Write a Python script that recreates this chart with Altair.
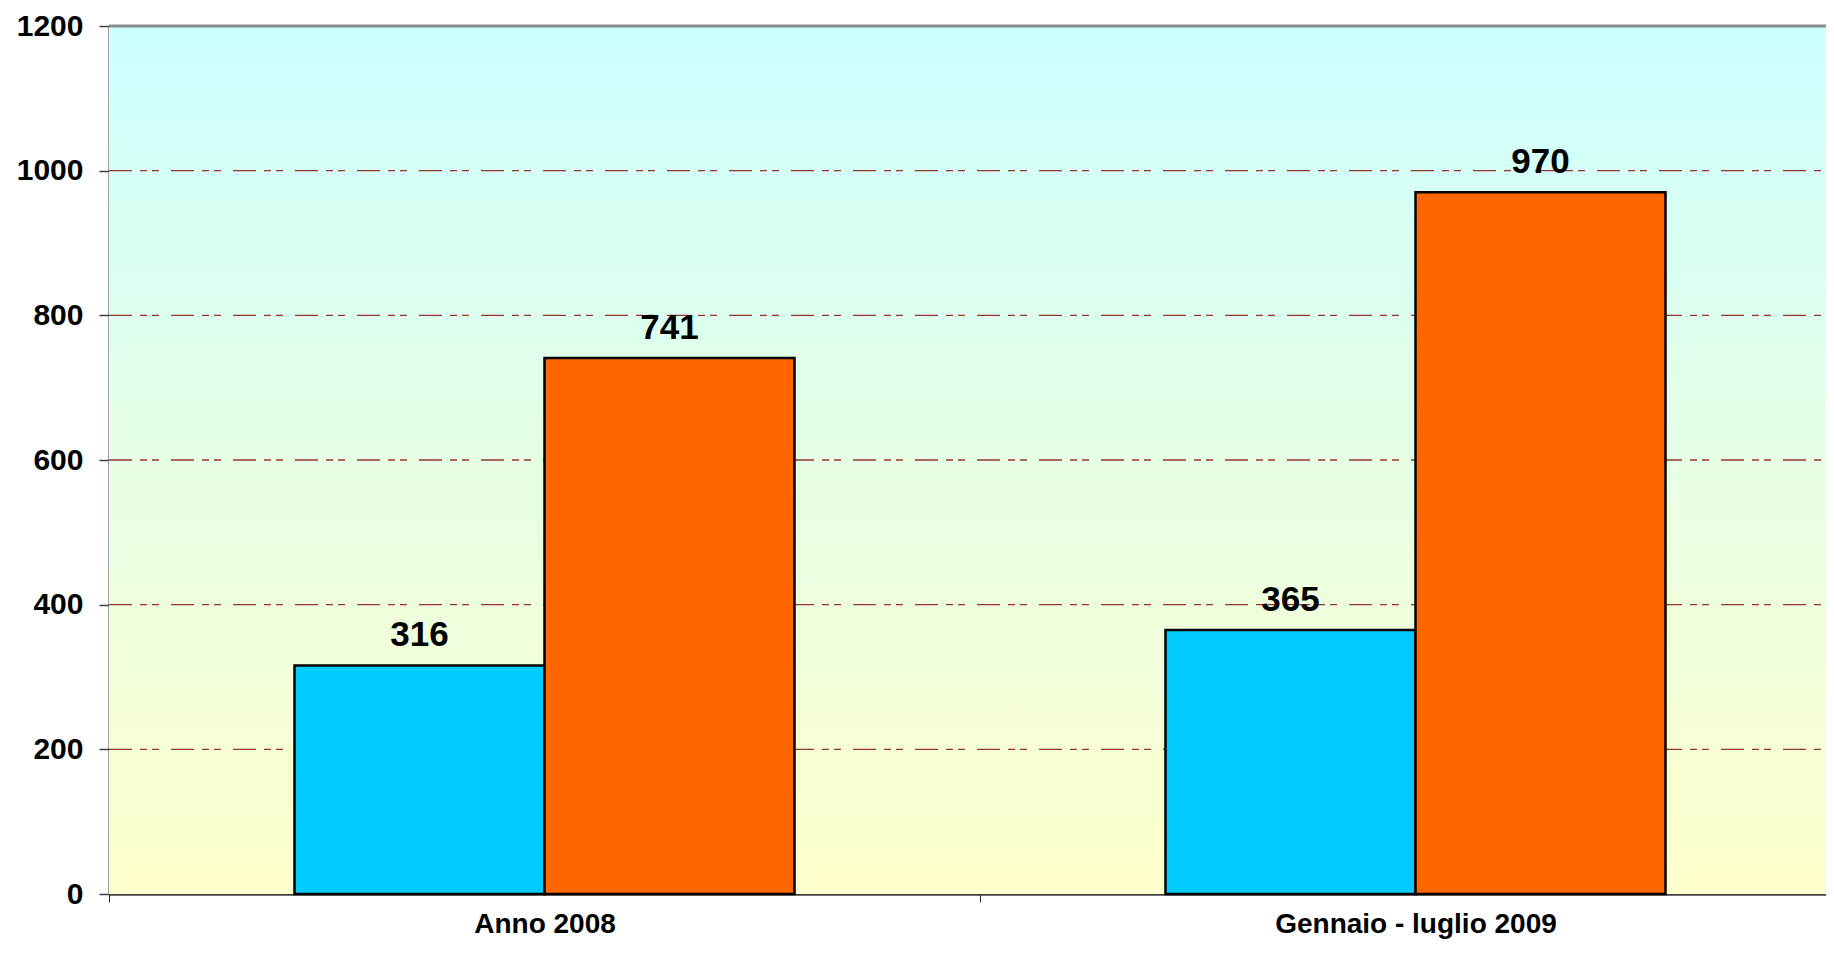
import altair as alt
import pandas as pd

# ---- data ----
categories = ["Anno 2008", "Gennaio - luglio 2009"]
series_names = ["Serie 1", "Serie 2"]
values_serie1 = [316, 365]
values_serie2 = [741, 970]
y_ticks = [0, 200, 400, 600, 800, 1000, 1200]
grid_values = [200, 400, 600, 800, 1000]
bar_colors = ["#00CCFF", "#FF6600"]

rows = []
for i, c in enumerate(categories):
    rows.append({"cat": c, "serie": series_names[0], "v": values_serie1[i]})
    rows.append({"cat": c, "serie": series_names[1], "v": values_serie2[i]})
df = pd.DataFrame(rows)
grid_df = pd.DataFrame({"v": grid_values})

W_VIS = 1717   # visible plot width
W_FULL = 1742  # full band range (plot is cropped on the right)
H = 868
FONT = "Liberation Sans"

y_scale = alt.Scale(domain=[0, 1200], nice=False, zero=True)
x_scale = alt.Scale(range=[0, W_FULL], paddingInner=0, paddingOuter=0)
off_scale = alt.Scale(paddingOuter=0.742, paddingInner=0)

bg = alt.Chart(pd.DataFrame({"a": [0]})).mark_rect(
    color=alt.Gradient(
        gradient="linear",
        stops=[alt.GradientStop(color="#CCFFFF", offset=0),
               alt.GradientStop(color="#FFFFCC", offset=1)],
        x1=0, x2=0, y1=0, y2=1,
    )
).encode(x=alt.value(0), x2=alt.value(W_FULL), y=alt.value(0), y2=alt.value(H))

grid = alt.Chart(grid_df).mark_rule(
    color="#993333", strokeWidth=1.3, strokeDash=[23, 8, 7, 5, 7, 12]
).encode(y=alt.Y("v:Q", scale=y_scale), x=alt.value(0), x2=alt.value(W_FULL))

top_border = alt.Chart(pd.DataFrame({"a": [0]})).mark_rule(
    color="#8C8C8C", strokeWidth=3
).encode(x=alt.value(0), x2=alt.value(W_FULL), y=alt.value(0))

base = alt.Chart(df)

bars = base.mark_bar(stroke="black", strokeWidth=2.5).encode(
    x=alt.X("cat:N", sort=categories, scale=x_scale,
            axis=alt.Axis(title=None, labelAngle=0, labelFont=FONT,
                          labelFontWeight="bold", labelFontSize=28,
                          labelColor="black", labelPadding=8, labelLimit=0,
                          tickBand="extent", tickSize=8, tickColor="#222222",
                          tickWidth=1, domainColor="#404040", domainWidth=2.5,
                          grid=False)),
    xOffset=alt.XOffset("serie:N", sort=series_names, scale=off_scale),
    y=alt.Y("v:Q", scale=y_scale,
            axis=alt.Axis(title=None, values=y_ticks, format="d",
                          labelFont=FONT,
                          labelFontWeight="bold", labelFontSize=30,
                          labelColor="black", labelPadding=16, tickSize=10,
                          tickColor="#404040", tickWidth=1.5,
                          domainColor="#404040", domainWidth=2, grid=False)),
    color=alt.Color("serie:N", sort=series_names,
                    scale=alt.Scale(domain=series_names, range=bar_colors),
                    legend=None),
)

labels = base.mark_text(
    font=FONT, fontWeight="bold", fontSize=35, color="black",
    baseline="alphabetic", dy=-19
).encode(
    x=alt.X("cat:N", sort=categories, scale=x_scale),
    xOffset=alt.XOffset("serie:N", sort=series_names, scale=off_scale),
    y=alt.Y("v:Q", scale=y_scale),
    text=alt.Text("v:Q"),
)

chart = alt.layer(bg, grid, bars, top_border, labels).properties(
    width=W_VIS, height=H,
    autosize=alt.AutoSizeParams(type="none"),
    padding={"left": 101, "top": 18, "right": 0, "bottom": 50},
).configure_view(stroke=None)

chart.save("out.html", embed_options={"renderer": "svg", "actions": False})
